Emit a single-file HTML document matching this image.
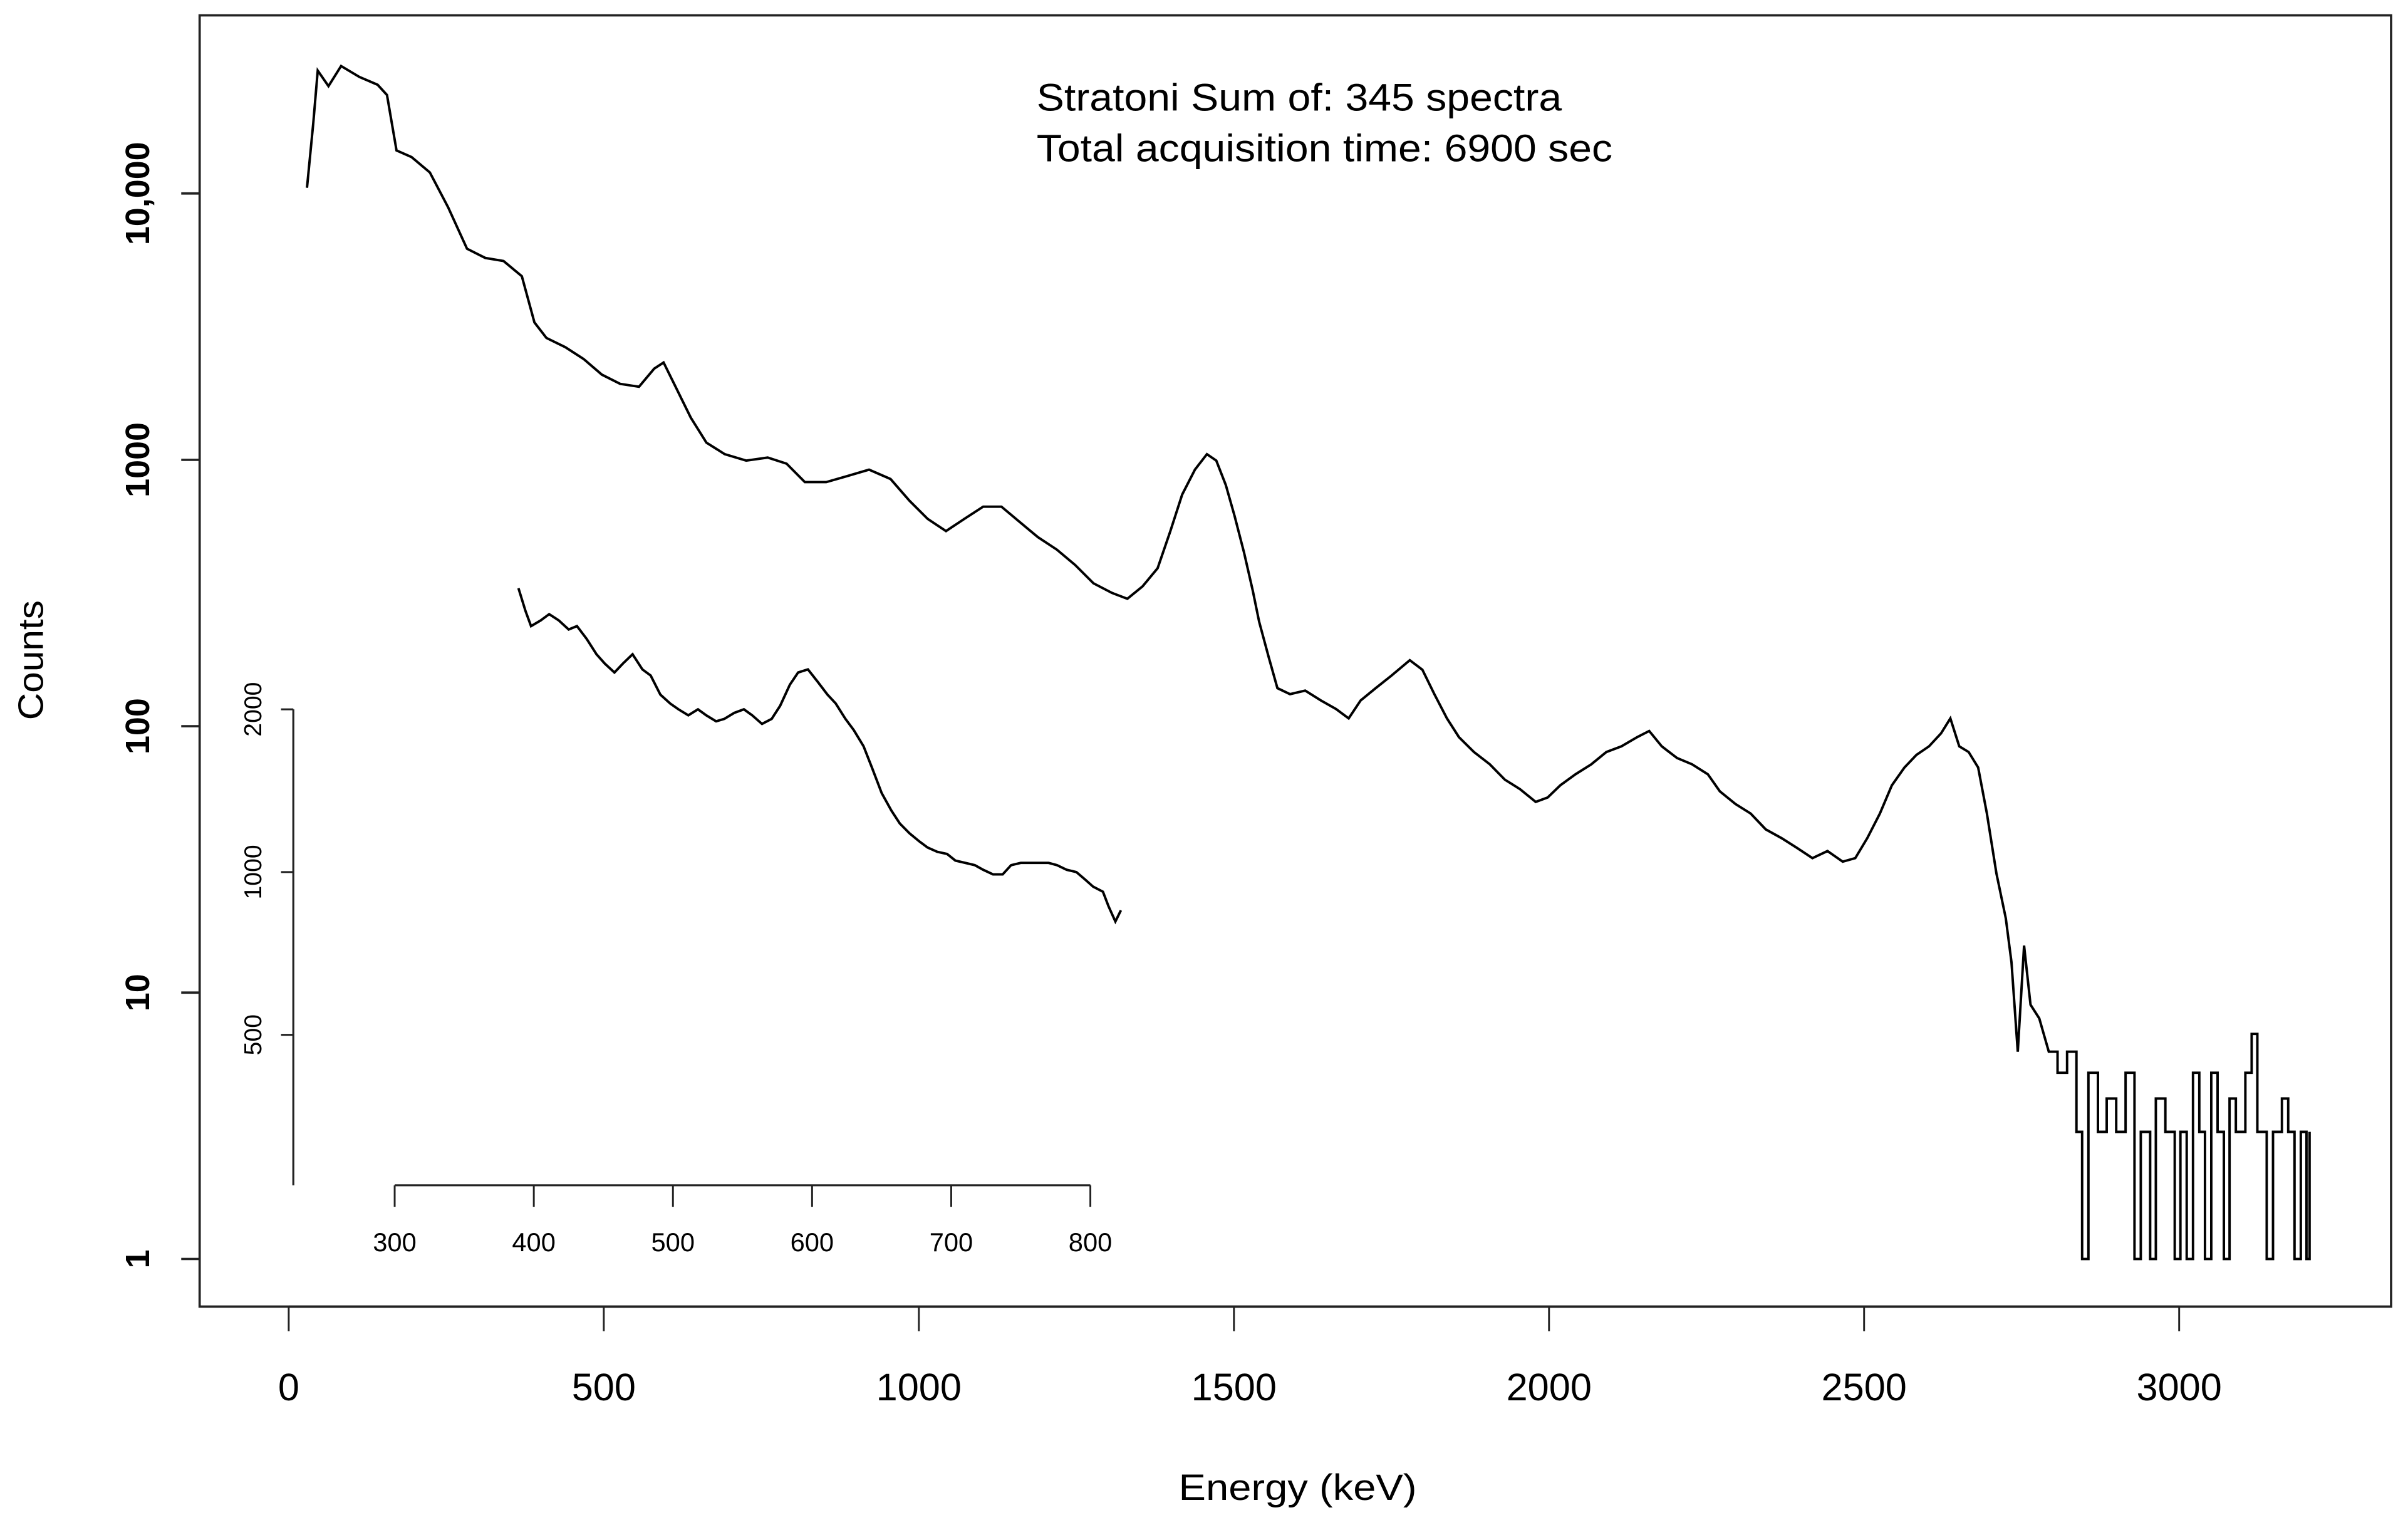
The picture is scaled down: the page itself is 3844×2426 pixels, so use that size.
<!DOCTYPE html>
<html><head><meta charset="utf-8"><style>
html,body{margin:0;padding:0;background:#fff;}
svg{display:block;}
text{font-family:"Liberation Sans",Arial,sans-serif;fill:#000;}
</style></head><body>
<svg id="chart" width="3844" height="2426" viewBox="0 0 1568 990" preserveAspectRatio="none" xmlns="http://www.w3.org/2000/svg">
<rect x="0" y="0" width="1568" height="990" fill="#fff"/>
<rect x="130" y="10" width="1427" height="841" fill="none" stroke="#222" stroke-width="1.5"/>
<g id="xaxis"></g>
<g id="yaxis"></g>
<text transform="translate(28,430) rotate(-90)" text-anchor="middle" font-size="23" textLength="78" lengthAdjust="spacingAndGlyphs">Counts</text>
<text x="845" y="977" text-anchor="middle" font-size="24" textLength="155" lengthAdjust="spacingAndGlyphs">Energy (keV)</text>
<text x="675" y="72" font-size="25" textLength="342" lengthAdjust="spacingAndGlyphs">Stratoni Sum of: 345 spectra</text>
<text x="675" y="105" font-size="25" textLength="375" lengthAdjust="spacingAndGlyphs">Total acquisition time: 6900 sec</text>
<g id="inset"></g>
<path id="mainline" fill="none" stroke="#000" stroke-width="1.6"/>
</svg>
<script>
const energies=[29,39,46,63,83,112,141,156,171,195,224,253,283,312,341,370,390,409,439,468,497,526,556,580,595,614,638,663,692,726,760,790,819,853,887,921,955,985,1014,1043,1072,1102,1131,1160,1189,1219,1248,1277,1306,1331,1355,1379,1399,1418,1438,1457,1472,1487,1501,1516,1530,1540,1555,1569,1589,1613,1638,1662,1682,1701,1725,1750,1779,1799,1818,1838,1857,1881,1906,1930,1954,1979,1998,2018,2042,2067,2091,2115,2140,2159,2179,2203,2227,2252,2271,2296,2320,2344,2369,2393,2418,2442,2466,2486,2505,2525,2544,2564,2583,2603,2622,2637,2651,2666,2681,2695,2710,2725,2734,2744,2754,2764,2778,2793,2807,2822,2837,2846,2856,2871,2885,2900,2915,2929,2939,2954,2963,2978,2993,3002,3012,3022,3032,3041,3051,3061,3071,3080,3090,3105,3115,3124,3139,3149,3163,3173,3183,3193,3202,3207];
const counts=[10500,18400,28900,25300,30100,27400,25600,23400,14500,13700,12000,8870,6200,5730,5580,4890,3280,2870,2650,2390,2090,1930,1880,2200,2320,1880,1440,1160,1050,993,1020,968,825,825,870,918,847,703,600,540,600,667,667,584,512,460,403,344,317,301,335,392,540,741,918,1050,993,804,616,448,322,247,182,139,132,136,125,116,107,125,139,155,177,163,132,107,91,80,72,63,58,52,54,60,66,72,80,84,91,96,84,76,72,66,57,51,47,41,38,35,32,34,31,32,38,47,60,70,78,84,94,107,84,80,70,47,28,19,13,6,15,9,8,6,5,6,3,1,5,3,4,3,5,1,3,1,4,3,1,3,1,5,3,1,5,3,1,4,3,5,7,3,1,3,4,3,1,3,1,3];
const xTicks=[0,500,1000,1500,2000,2500,3000];
const yTicks=[1,10,100,1000,10000];
const yTickLabels=["1","10","100","1000","10,000"];
const insetEnergies=[389,394,398,405,411,418,425,431,438,445,451,458,464,471,478,484,491,498,504,511,518,524,531,537,544,551,557,564,571,577,584,590,597,604,611,617,624,630,637,643,650,657,663,670,677,683,690,697,703,710,717,723,730,737,743,750,757,763,770,776,783,790,796,802,809,813,818,822];
const insetCounts=[3350,3040,2850,2920,3000,2920,2810,2850,2700,2530,2430,2340,2430,2530,2370,2310,2130,2050,2000,1950,2000,1950,1900,1920,1970,2000,1950,1880,1920,2030,2220,2340,2370,2250,2130,2050,1920,1830,1710,1560,1400,1300,1230,1180,1140,1110,1090,1080,1050,1040,1030,1010,990,990,1030,1040,1040,1040,1040,1030,1010,1000,970,940,920,865,810,850];
const insetXTicks=[300,400,500,600,700,800];
const insetYTicks=[500,1000,2000];

const NS="http://www.w3.org/2000/svg";
function xs(e){return 188+e*0.41033;}
function ys(c){return 820-Math.log10(c)*173.5;}
function ixs(e){return 257+(e-300)*0.906;}
function iys(c){return 568-Math.log2(c/1000)*106;}
function mk(tag,attrs,parent){const el=document.createElementNS(NS,tag);for(const k in attrs)el.setAttribute(k,attrs[k]);parent.appendChild(el);return el;}

const xg=document.getElementById('xaxis');
mk('line',{x1:xs(0),x2:xs(3000),y1:851,y2:851,stroke:'#222','stroke-width':1.5},xg);
xTicks.forEach(t=>{
  const l=mk('line',{x1:xs(t),x2:xs(t),y1:851,y2:867,stroke:'#222','stroke-width':1.2},xg);
  
  
  const tx=mk('text',{x:xs(t),y:912,'text-anchor':'middle','font-size':25},xg);
  
  
  tx.textContent=t;
});
const yg=document.getElementById('yaxis');
yTicks.forEach((t,i)=>{
  const l=mk('line',{x1:118,x2:130,y1:ys(t),y2:ys(t),stroke:'#222','stroke-width':1.5},yg);
  
  
  const tx=mk('text',{transform:`translate(97,${ys(t)}) rotate(-90)`,'text-anchor':'middle','font-size':22,'font-weight':'bold'},yg);
  
  
  tx.textContent=yTickLabels[i];
});

let d='';
energies.forEach((e,i)=>{
  const x=xs(e).toFixed(1),y=ys(counts[i]).toFixed(1);
  if(i===0)d+=`M${x},${y}`;
  else if(e>2800)d+=`H${x}V${y}`;
  else d+=`L${x},${y}`;
});
document.getElementById('mainline').setAttribute('d',d);

const ig=document.getElementById('inset');
mk('line',{x1:191,x2:191,y1:iys(2000),y2:772,stroke:'#222','stroke-width':1.3},ig);
mk('line',{x1:ixs(300),x2:ixs(800),y1:772,y2:772,stroke:'#222','stroke-width':1.3},ig);
insetYTicks.forEach(t=>{
  const l=mk('line',{x1:183,x2:191,y1:iys(t),y2:iys(t),stroke:'#222','stroke-width':1.2},ig);
  
  
  const tx=mk('text',{transform:`translate(170,${iys(t)}) rotate(-90)`,'text-anchor':'middle','font-size':16,fill:'#333'},ig);
  
  
  tx.textContent=t;
});
insetXTicks.forEach(t=>{
  const l=mk('line',{x1:ixs(t),x2:ixs(t),y1:772,y2:786,stroke:'#222','stroke-width':1.2},ig);
  
  
  const tx=mk('text',{x:ixs(t),y:815,'text-anchor':'middle','font-size':17,fill:'#333'},ig);
  
  
  tx.textContent=t;
});
const ipts=insetEnergies.map((e,i)=>ixs(e).toFixed(1)+','+iys(insetCounts[i]).toFixed(1)).join(' ');
const il=mk('polyline',{points:ipts,fill:'none',stroke:'#000','stroke-width':1.6},ig);


</script>
</body></html>
